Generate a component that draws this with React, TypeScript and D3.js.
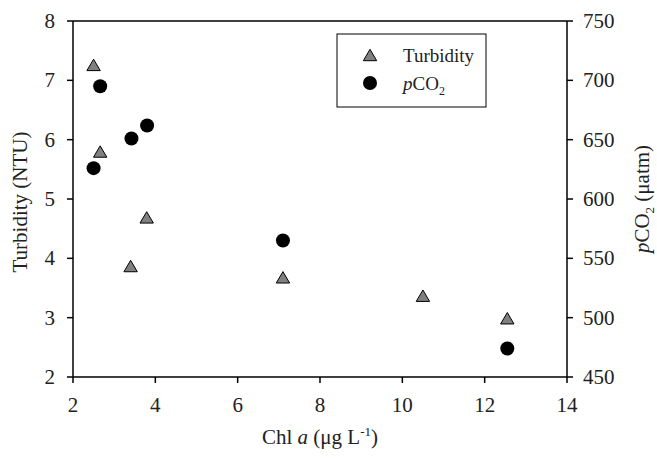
import React from "react";
import * as d3 from "d3";

const chlTurb = [2.5, 2.66, 3.4, 3.79, 7.1, 10.5, 12.55];
const turbidity = [7.26, 5.8, 3.87, 4.69, 3.68, 3.37, 2.99];
const chlPco2 = [2.5, 2.66, 3.42, 3.8, 7.1, 12.55];
const pco2 = [626, 695, 651, 662, 565, 474];
const xTicks = [2, 4, 6, 8, 10, 12, 14];
const yLeftTicks = [2, 3, 4, 5, 6, 7, 8];
const yRightTicks = [450, 500, 550, 600, 650, 700, 750];

const W = 657, H = 459;
const L = 73, R = 567, T = 21, B = 377;
const FONT = "Liberation Serif, Times New Roman, DejaVu Serif, serif";

function tri(cx: number, cy: number) {
  const hw = 6.7, hh = 5.7;
  return `M${cx},${cy - hh}L${cx + hw},${cy + hh}L${cx - hw},${cy + hh}Z`;
}

const ts: React.CSSProperties = { fontFamily: FONT };

export default function App() {
  const x = d3.scaleLinear().domain([2, 14]).range([L, R]);
  const yl = d3.scaleLinear().domain([2, 8]).range([B, T]);
  const yr = d3.scaleLinear().domain([450, 750]).range([B, T]);
  const midY = (T + B) / 2;
  return (
    <svg width={W} height={H} style={{ position: "absolute", left: 0, top: 0, background: "#fff", fontFamily: FONT }}>
      <rect x={0} y={0} width={W} height={H} fill="#fff" />
      <line x1={L} x2={R} y1={T} y2={T} stroke="#000" strokeWidth={1.5} />
      <line x1={L} x2={R} y1={B} y2={B} stroke="#000" strokeWidth={1.5} />
      <line x1={L} x2={L} y1={T} y2={B} stroke="#000" strokeWidth={1.5} />
      <line x1={R} x2={R} y1={T} y2={B} stroke="#000" strokeWidth={1.5} />
      {xTicks.map((t) => (
        <g key={"x" + t}>
          <line x1={x(t)} x2={x(t)} y1={B} y2={B + 6} stroke="#000" strokeWidth={1.5} />
          <text style={ts} x={x(t)} y={412} fontSize={21} textAnchor="middle" fill="#222">{t}</text>
        </g>
      ))}
      {yLeftTicks.map((t) => (
        <g key={"yl" + t}>
          <line x1={L - 6} x2={L} y1={yl(t)} y2={yl(t)} stroke="#000" strokeWidth={1.5} />
          <text style={ts} x={55} y={yl(t)} dy="0.34em" fontSize={21} textAnchor="end" fill="#222">{t}</text>
        </g>
      ))}
      {yRightTicks.map((t) => (
        <g key={"yr" + t}>
          <line x1={R} x2={R + 6} y1={yr(t)} y2={yr(t)} stroke="#000" strokeWidth={1.5} />
          <text style={ts} x={583} y={yr(t)} dy="0.34em" fontSize={21} textAnchor="start" fill="#222">{t}</text>
        </g>
      ))}
      <text style={ts} x={(L + R) / 2} y={444} fontSize={21} textAnchor="middle" fill="#222">
        Chl <tspan fontStyle="italic">a</tspan> (μg L<tspan dy={-8} fontSize={13}>-1</tspan><tspan dy={8}>)</tspan>
      </text>
      <text style={ts} transform={`translate(27,${midY + 3}) rotate(-90)`} fontSize={21} textAnchor="middle" fill="#222">
        Turbidity (NTU)
      </text>
      <text style={ts} transform={`translate(649,${midY}) rotate(-90)`} fontSize={21} textAnchor="middle" fill="#222">
        <tspan fontStyle="italic">p</tspan>CO<tspan dy={5} fontSize={13}>2</tspan><tspan dy={-5}> (μatm)</tspan>
      </text>
      {chlTurb.map((c, i) => (
        <path key={"t" + i} d={tri(x(c), yl(turbidity[i]))} fill="#808080" stroke="#000" strokeWidth={1} />
      ))}
      {chlPco2.map((c, i) => (
        <circle key={"c" + i} cx={x(c)} cy={yr(pco2[i])} r={7} fill="#000" />
      ))}
      <rect x={337} y={34} width={149} height={73} fill="#fff" stroke="#000" strokeWidth={1} />
      <path d={tri(370, 55)} fill="#808080" stroke="#000" strokeWidth={1} />
      <circle cx={370} cy={83} r={7} fill="#000" />
      <text style={ts} x={403} y={62} fontSize={19} fill="#222">Turbidity</text>
      <text style={ts} x={403} y={90} fontSize={19} fill="#222">
        <tspan fontStyle="italic">p</tspan>CO<tspan dy={5} fontSize={12}>2</tspan>
      </text>
    </svg>
  );
}
